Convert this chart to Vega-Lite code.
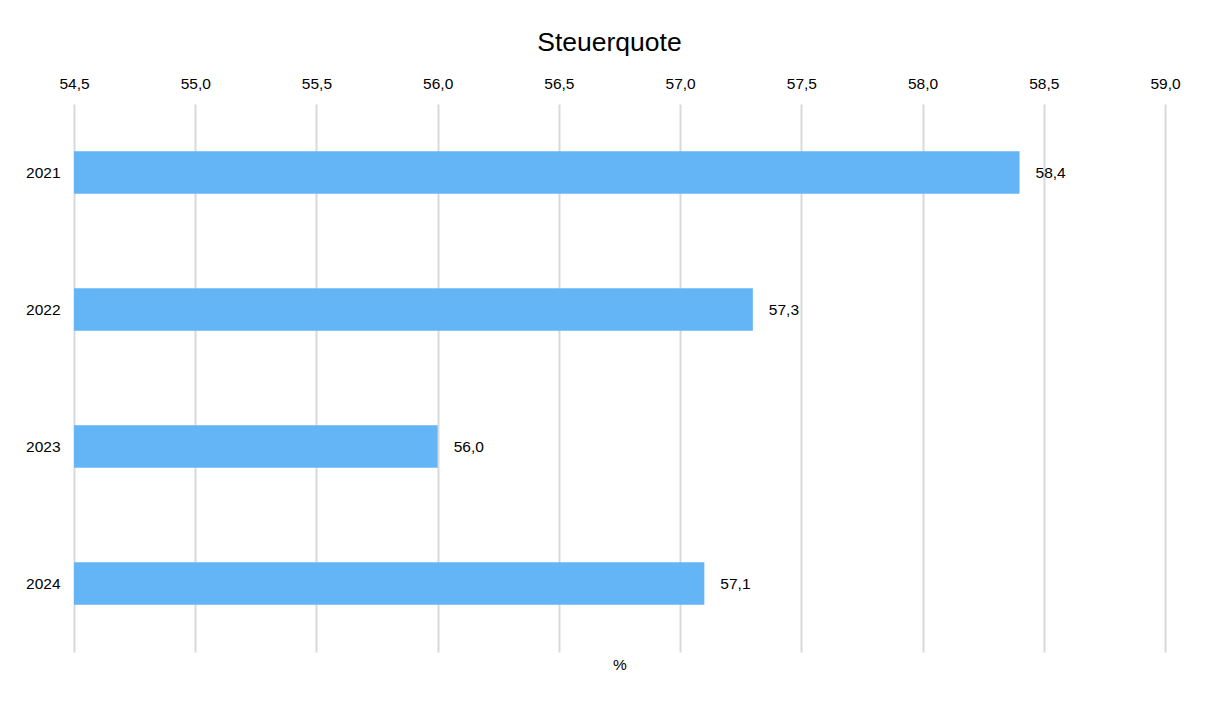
{
  "$schema": "https://vega.github.io/schema/vega-lite/v6.json",
  "width": 1091,
  "height": 548,
  "autosize": {"type": "none"},
  "padding": {"left": 74, "top": 104, "right": 40, "bottom": 50},
  "background": "white",
  "config": {
    "locale": {"number": {"decimal": ",", "thousands": ".", "grouping": [3], "currency": ["", " €"]}},
    "font": "Liberation Sans",
    "view": {"stroke": null},
    "title": {"font": "Liberation Sans", "fontSize": 26.5, "fontWeight": "normal", "color": "#000000"}
  },
  "title": {"text": "Steuerquote", "anchor": "middle", "offset": 20, "dx": -10},
  "data": {
    "values": [
      {"Jahr": "2021", "Steuerquote": 58.4},
      {"Jahr": "2022", "Steuerquote": 57.3},
      {"Jahr": "2023", "Steuerquote": 56.0},
      {"Jahr": "2024", "Steuerquote": 57.1}
    ]
  },
  "encoding": {
    "y": {
      "field": "Jahr",
      "type": "nominal",
      "sort": null,
      "scale": {"paddingInner": 0.69, "paddingOuter": 0.345},
      "axis": {"title": null, "ticks": false, "domain": false, "labelPadding": 14, "labelFontSize": 15.5, "labelColor": "#000000", "labelFont": "Liberation Sans"}
    }
  },
  "layer": [
    {
      "mark": {"type": "bar", "color": "#64B5F6", "clip": true},
      "encoding": {
        "x": {
          "field": "Steuerquote",
          "type": "quantitative",
          "scale": {"domain": [54.5, 59.0], "nice": false, "zero": false},
          "axis": {
            "orient": "top", "title": null, "format": ".1f", "values": [54.5, 55, 55.5, 56, 56.5, 57, 57.5, 58, 58.5, 59],
            "ticks": false, "domain": false, "labelPadding": 13, "labelFontSize": 15.5, "labelColor": "#000000",
            "labelFlush": false, "labelOverlap": false, "labelBound": false,
            "labelFont": "Liberation Sans", "gridColor": "#d9d9d9", "gridWidth": 2
          }
        }
      }
    },
    {
      "mark": {"type": "text", "align": "left", "dx": 16, "fontSize": 15.5, "color": "#000000", "font": "Liberation Sans"},
      "encoding": {
        "x": {
          "field": "Steuerquote",
          "type": "quantitative",
          "axis": {"orient": "bottom", "title": "%", "labels": false, "ticks": false, "domain": false, "grid": false, "titlePadding": 5, "titleFontSize": 15.5, "titleFontWeight": "normal", "titleColor": "#000000", "titleFont": "Liberation Sans"}
        },
        "text": {"field": "Steuerquote", "type": "quantitative", "format": ".1f"}
      }
    }
  ],
  "resolve": {"axis": {"x": "independent"}}
}
